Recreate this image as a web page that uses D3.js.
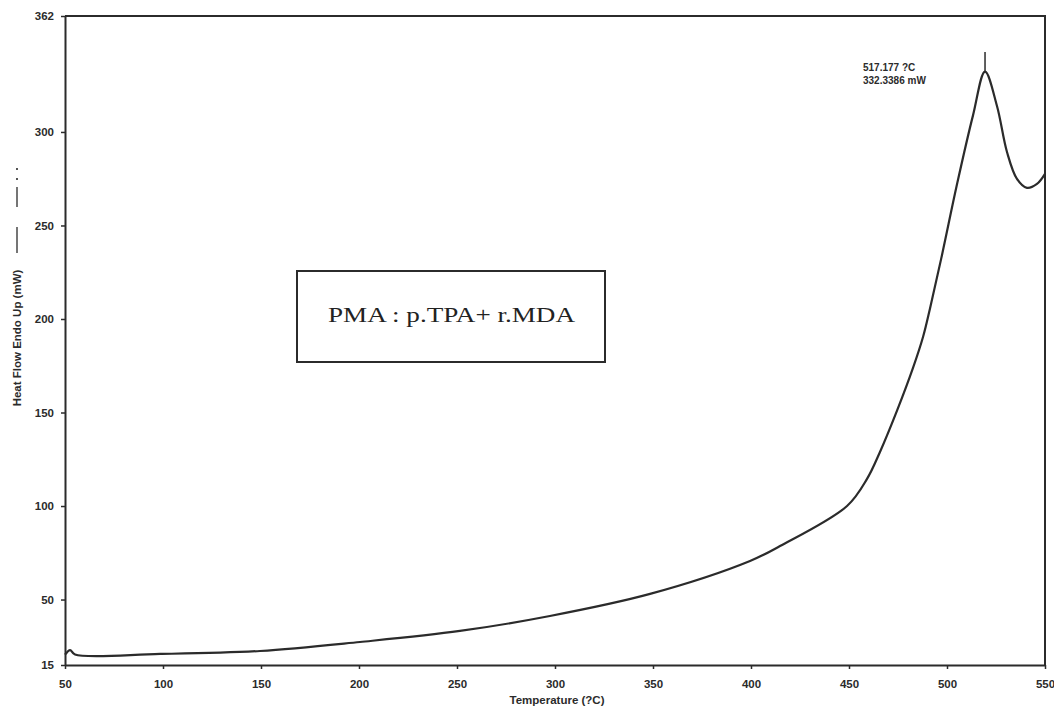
<!DOCTYPE html>
<html>
<head>
<meta charset="utf-8">
<script src="https://cdn.jsdelivr.net/npm/d3@7"></script>
<style>
  html, body { margin: 0; padding: 0; background: #ffffff; }
  svg { display: block; }
</style>
</head>
<body>
<svg id="chart" width="1054" height="707"></svg>
<script>
// ---- Data ----
const temperature = [50, 52.6, 55.1, 98.5, 149.5, 200.5, 251.5, 297.4, 348.5, 399.5, 414.8, 449.0, 459.2, 465.8, 474.5, 482.7, 487.8, 491.3, 497.4, 505.1, 513.3, 519.4, 525.5, 530.6, 535.7, 540.8, 545.9, 550];
const heatFlow    = [20.5, 23.0, 20.6, 20.9, 22.5, 27.3, 33.2, 41.2, 53.0, 70.6, 78.6, 100.0, 114.5, 128.9, 151.0, 174.0, 190.5, 205.5, 234.0, 272.0, 309.0, 332.3, 313.9, 289.3, 274.9, 270.1, 272.2, 277.6];
const xTicks = [50, 100, 150, 200, 250, 300, 350, 400, 450, 500, 550];
const yTicks = [15, 50, 100, 150, 200, 250, 300, 362];
const xDomain = [50, 550];
const yDomain = [15, 362];
const peakPoint = [519.4, 332.3];
const peakMarkerTop = 342.8;
const peakLabels = ["517.177 ?C", "332.3386 mW"];
const boxLabel = "PMA : p.TPA+ r.MDA";
const xTitle = "Temperature (?C)";
const yTitle = "Heat Flow Endo Up (mW)";

(function () {
// ---- Layout ----
const svg = d3.select("#chart");
const mLeft = 65, mRight = 1045, mTop = 16, mBottom = 665;
const ink = "#2b2b2b";
const tickFont = "'Liberation Sans Narrow', 'Liberation Sans', Arial, sans-serif";

const x = d3.scaleLinear().domain(xDomain).range([mLeft, mRight]);
const y = d3.scaleLinear().domain(yDomain).range([mBottom, mTop]);

// Frame (top and right)
svg.append("path")
  .attr("d", `M${mLeft},${mTop}H${mRight}V${mBottom}`)
  .attr("fill", "none").attr("stroke", ink).attr("stroke-width", 2);

// X axis
const gx = svg.append("g").attr("transform", `translate(0,${mBottom})`)
  .call(d3.axisBottom(x).tickValues(xTicks).tickSize(4).tickPadding(11).tickSizeOuter(0));
// Y axis
const gy = svg.append("g").attr("transform", `translate(${mLeft},0)`)
  .call(d3.axisLeft(y).tickValues(yTicks).tickSize(4).tickPadding(7).tickSizeOuter(0));

[gx, gy].forEach(g => {
  g.select(".domain").attr("stroke", ink).attr("stroke-width", 2);
  g.selectAll(".tick line").attr("stroke", ink).attr("stroke-width", 1.5);
  g.selectAll(".tick text")
    .attr("fill", ink)
    .style("font-family", tickFont)
    .style("font-size", "11.5px")
    .style("font-weight", "bold");
});

// Axis titles
svg.append("text")
  .attr("x", 557).attr("y", 704)
  .attr("text-anchor", "middle")
  .attr("fill", ink)
  .style("font-family", tickFont).style("font-size", "11.5px").style("font-weight", "bold")
  .text(xTitle);

const yt = svg.append("g").attr("transform", "translate(21,338) rotate(-90)");
yt.append("text")
  .attr("x", 0).attr("y", 0)
  .attr("text-anchor", "middle")
  .attr("fill", ink)
  .style("font-family", tickFont).style("font-size", "11.5px").style("font-weight", "bold")
  .text(yTitle);
// legend sample beside the title (solid, dash, dots)
yt.append("line").attr("x1", 85).attr("x2", 111).attr("y1", -4).attr("y2", -4)
  .attr("stroke", ink).attr("stroke-width", 1.3);
yt.append("line").attr("x1", 131).attr("x2", 151).attr("y1", -4).attr("y2", -4)
  .attr("stroke", ink).attr("stroke-width", 1.3);
yt.append("line").attr("x1", 158).attr("x2", 170).attr("y1", -4).attr("y2", -4)
  .attr("stroke", ink).attr("stroke-width", 1.6).attr("stroke-dasharray", "2,8");

// Curve
const pts = temperature.map((t, i) => [t, heatFlow[i]]);
const line = d3.line()
  .x(d => x(d[0])).y(d => y(d[1]))
  .curve(d3.curveCatmullRom.alpha(0.5));
svg.append("path")
  .datum(pts)
  .attr("d", line)
  .attr("fill", "none")
  .attr("stroke", ink)
  .attr("stroke-width", 2.2)
  .attr("stroke-linejoin", "round");

// Peak marker and labels
svg.append("line")
  .attr("x1", x(peakPoint[0])).attr("x2", x(peakPoint[0]))
  .attr("y1", y(peakPoint[1])).attr("y2", y(peakMarkerTop))
  .attr("stroke", ink).attr("stroke-width", 1.5);
peakLabels.forEach((s, i) => {
  svg.append("text")
    .attr("x", 863).attr("y", 71 + i * 13)
    .attr("fill", ink)
    .style("font-family", tickFont).style("font-size", "10px").style("font-weight", "bold")
    .text(s);
});

// Label box
svg.append("rect")
  .attr("x", 297).attr("y", 271).attr("width", 308).attr("height", 91)
  .attr("fill", "none").attr("stroke", ink).attr("stroke-width", 2);
svg.append("text")
  .attr("x", 328).attr("y", 322)
  .attr("textLength", 247).attr("lengthAdjust", "spacingAndGlyphs")
  .attr("fill", "#222")
  .style("font-family", "'Liberation Serif', 'Times New Roman', serif")
  .style("font-size", "21px")
  .text(boxLabel);
})();
</script>
</body>
</html>
